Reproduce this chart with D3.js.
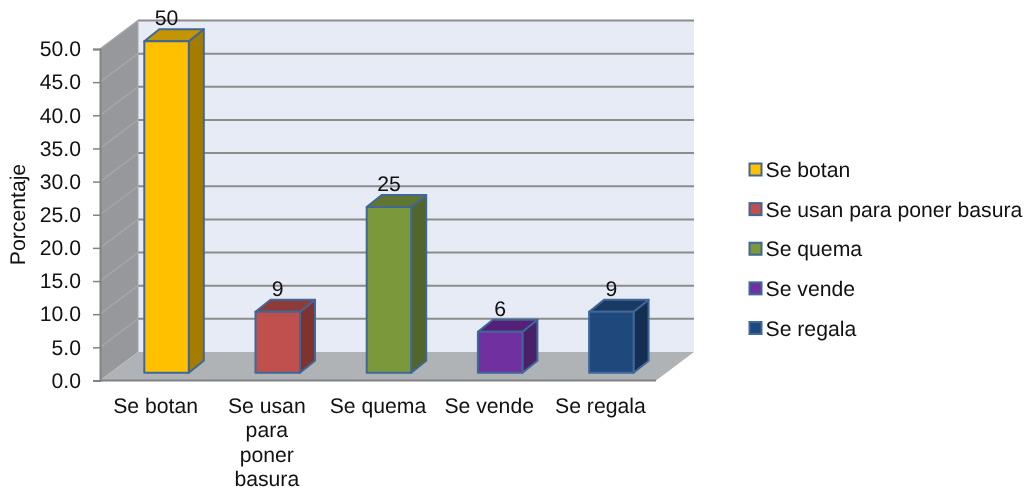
<!DOCTYPE html>
<html><head><meta charset="utf-8">
<script src="https://cdn.jsdelivr.net/npm/d3@7"></script>
<style>html,body{margin:0;padding:0;background:#fff}svg{display:block;filter:blur(0.35px)}text{font-family:"Liberation Sans",Arial,sans-serif;fill:#111;text-rendering:geometricPrecision}</style>
</head><body><div id="c"></div>
<script>
const categories=["Se botan","Se usan para poner basura","Se quema","Se vende","Se regala"];
const categoryLines=[["Se botan"],["Se usan","para","poner","basura"],["Se quema"],["Se vende"],["Se regala"]];
const values=[50,9.2,25,6.2,9.2];
const valueLabels=["50","9","25","6","9"];
const frontColors=["#FFC000","#C0504D","#7B983B","#7030A0","#1F497D"];
const sideColors=["#A47D00","#7F3230","#52652A","#4A2069","#152F52"];
const topColors=["#C49500","#8F3B39","#5F7530","#552078","#1A3A63"];
const yTicks=d3.range(0,50.1,5);

const W=1027,H=490;
const FS=21.2;
const svg=d3.select("#c").append("svg").attr("width",W).attr("height",H);
const m={l:100,r:656,t:49,b:380.5};
const dx=38,dy=-28.5;           // floor / wall depth
const bdx=15,bdy=-12;           // bar depth
const barLift=7.7;              // bars stand slightly inside the floor
const y=d3.scaleLinear().domain([0,50]).range([m.b,m.t]);
const x=d3.scaleBand().domain(categories).range([m.l,m.r]);
const barW=44.5,barOff=44.3;
const poly=p=>p.map(a=>a.join(",")).join(" ");

// back wall
svg.append("rect").attr("x",m.l+dx).attr("y",y(50)+dy).attr("width",m.r-m.l).attr("height",y(0)-y(50)).attr("fill","#E6EBF5");
// side wall
svg.append("polygon").attr("points",poly([[m.l,y(50)],[m.l+dx,y(50)+dy],[m.l+dx,y(0)+dy],[m.l,y(0)]])).attr("fill","#96989C");
// floor
svg.append("polygon").attr("points",poly([[m.l,y(0)],[m.l+dx,y(0)+dy],[m.r+dx,y(0)+dy],[m.r,y(0)]])).attr("fill","#B0B3B6");

// gridlines
const grid=svg.append("g").attr("fill","none");
yTicks.forEach(t=>{
  if(t>0) grid.append("line").attr("x1",m.l+dx).attr("x2",m.r+dx).attr("y1",y(t)+dy).attr("y2",y(t)+dy).attr("stroke","#8C8C8C").attr("stroke-width",2);
  if(t>0) grid.append("line").attr("x1",m.l).attr("x2",m.l+dx).attr("y1",y(t)).attr("y2",y(t)+dy).attr("stroke","#A5A6A9").attr("stroke-width",1.5);
});
svg.append("line").attr("x1",m.l+dx).attr("x2",m.l+dx).attr("y1",y(50)+dy).attr("y2",y(0)+dy).attr("stroke","#A6A8AB").attr("stroke-width",1);

// floor edges
svg.append("line").attr("x1",m.l).attr("x2",m.r).attr("y1",y(0)).attr("y2",y(0)).attr("stroke","#808285").attr("stroke-width",2);

// y axis
const gy=svg.append("g").attr("transform",`translate(${m.l},0)`)
  .call(d3.axisLeft(y).tickValues(yTicks).tickFormat(d3.format(".1f")).tickSize(7).tickPadding(12));
gy.select(".domain").attr("stroke","#808285").attr("stroke-width",2);
gy.selectAll(".tick line").attr("stroke","#808285").attr("stroke-width",1.5);
gy.selectAll("text").attr("font-size",FS).attr("font-family",'"Liberation Sans",Arial,sans-serif');

// x axis labels
const gx=svg.append("g").attr("transform",`translate(0,${m.b})`)
  .call(d3.axisBottom(x).tickSize(0).tickPadding(0));
gx.select(".domain").remove();
gx.selectAll("text").attr("font-size",FS).attr("font-family",'"Liberation Sans",Arial,sans-serif').attr("y",0).attr("dy",null)
  .each(function(d,i){
    const t=d3.select(this).text(null);
    categoryLines[i].forEach((l,k)=>t.append("tspan").attr("x",0).attr("y",32+k*24.6).text(l));
  });

// axis title
svg.append("text").attr("transform","translate(25,214.5) rotate(-90)").attr("text-anchor","middle").attr("font-size",FS).text("Porcentaje");

// bars
const bars=svg.append("g").attr("stroke","#3F6797").attr("stroke-width",2).attr("stroke-linejoin","round");
categories.forEach((c,i)=>{
  const x0=x(c)+barOff,x1=x0+barW,yb=y(0)-barLift,yt=y(values[i])-barLift;
  bars.append("polygon").attr("points",poly([[x1,yb],[x1+bdx,yb+bdy],[x1+bdx,yt+bdy],[x1,yt]])).attr("fill",sideColors[i]);
  bars.append("polygon").attr("points",poly([[x0,yt],[x0+bdx,yt+bdy],[x1+bdx,yt+bdy],[x1,yt]])).attr("fill",topColors[i]);
  bars.append("rect").attr("x",x0).attr("y",yt).attr("width",barW).attr("height",yb-yt).attr("fill",frontColors[i]);
  svg.append("text").attr("x",x0+barW/2).attr("y",yt-16).attr("text-anchor","middle").attr("font-size",FS).text(valueLabels[i]);
});

// legend
const ly=d3.scalePoint().domain(categories).range([169.5,328]);
categories.forEach((c,i)=>{
  svg.append("rect").attr("x",749.5).attr("y",ly(c)-6).attr("width",12).attr("height",12).attr("fill",frontColors[i]).attr("stroke","#3F6797").attr("stroke-width",2);
  svg.append("text").attr("x",765.5).attr("y",ly(c)+7.5).attr("font-size",FS).text(c);
});
</script></body></html>
